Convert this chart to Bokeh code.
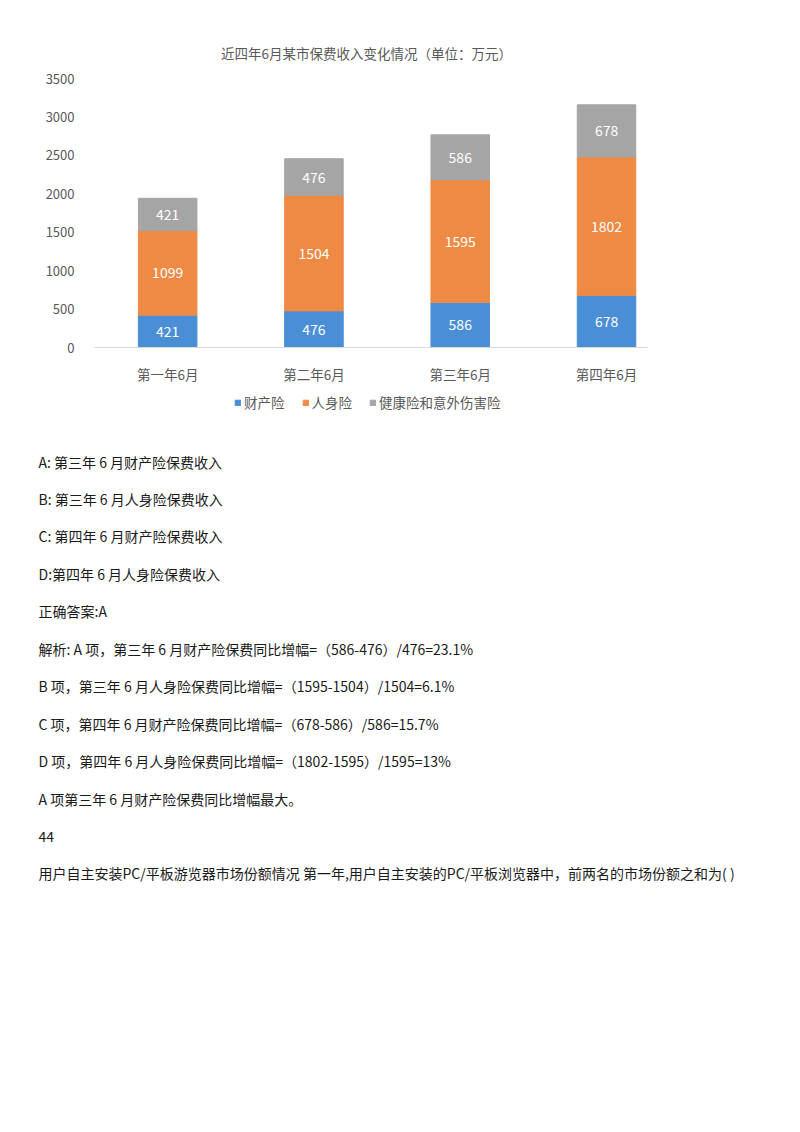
import numpy as np
from bokeh.plotting import figure
from bokeh.models import Range1d, ColumnDataSource, Legend, LegendItem
from bokeh.embed import file_html
from bokeh.resources import INLINE
from bokeh.core.properties import value

# chart data
title = "近四年6月某市保费收入变化情况（单位：万元）"
categories = ["第一年6月", "第二年6月", "第三年6月", "第四年6月"]
series = ["财产险", "人身险", "健康险和意外伤害险"]
property_ins = [421, 476, 586, 678]
life_ins = [1099, 1504, 1595, 1802]
health_ins = [421, 476, 586, 678]
y_ticks = [0, 500, 1000, 1500, 2000, 2500, 3000, 3500]
colors = ["#4A8FD6", "#EF8A45", "#A5A5A5"]

# text under the chart
lines = [
    "A: 第三年 6 月财产险保费收入",
    "B: 第三年 6 月人身险保费收入",
    "C: 第四年 6 月财产险保费收入",
    "D:第四年 6 月人身险保费收入",
    "正确答案:A",
    "解析: A 项，第三年 6 月财产险保费同比增幅=（586-476）/476=23.1%",
    "B 项，第三年 6 月人身险保费同比增幅=（1595-1504）/1504=6.1%",
    "C 项，第四年 6 月财产险保费同比增幅=（678-586）/586=15.7%",
    "D 项，第四年 6 月人身险保费同比增幅=（1802-1595）/1595=13%",
    "A 项第三年 6 月财产险保费同比增幅最大。",
    "44",
    "用户自主安装PC/平板游览器市场份额情况 第一年,用户自主安装的PC/平板浏览器中，前两名的市场份额之和为( )",
]

FONT = "Noto Sans CJK SC"
GREY_TXT = "#595959"
W = 784


def blank(height):
    f = figure(width=W, height=height, x_range=Range1d(0, W), y_range=Range1d(height, 0),
               output_backend="svg", toolbar_location=None,
               min_border=0, min_border_left=0, min_border_right=0,
               min_border_top=0, min_border_bottom=0)
    f.axis.visible = False
    f.grid.visible = False
    f.outline_line_color = None
    return f


# title strip
HT = 68
h = blank(HT)
h.text(x=[366], y=[52], text=[title], text_color=GREY_TXT, text_font=value(FONT),
       text_font_size="13.5px", text_align="center", text_baseline="middle")

# chart
xs = np.arange(len(categories)) + 0.5
values = [property_ins, life_ins, health_ins]

p = figure(width=W, height=318, x_range=Range1d(0, 3.78), y_range=Range1d(0, 3500),
           output_backend="svg", toolbar_location=None,
           min_border_left=94, min_border_right=137, min_border_top=10, min_border_bottom=35)
p.outline_line_color = None
p.grid.visible = False

# stacked bars with white value labels
bottom = np.zeros(len(categories))
for vals, col in zip(values, colors):
    vals = np.array(vals, dtype=float)
    src = ColumnDataSource(dict(x=xs, bottom=bottom, top=bottom + vals,
                                mid=bottom + vals / 2, label=[str(int(v)) for v in vals]))
    p.vbar(x="x", bottom="bottom", top="top", width=0.4, color=col, source=src)
    p.text(x="x", y="mid", text="label", source=src, text_color="white",
           text_font=value(FONT), text_font_size="14px",
           text_align="center", text_baseline="middle")
    bottom = bottom + vals

p.yaxis.ticker = y_ticks
p.yaxis.axis_line_color = None
p.yaxis.major_tick_line_color = None
p.yaxis.minor_tick_line_color = None
p.yaxis.major_label_standoff = 14
p.yaxis.major_label_text_font = FONT
p.yaxis.major_label_text_font_size = "13px"
p.yaxis.major_label_text_color = GREY_TXT

p.xaxis.ticker = list(xs)
p.xaxis.major_label_overrides = {float(x): c for x, c in zip(xs, categories)}
p.xaxis.axis_line_color = "#D9D9D9"
p.xaxis.major_tick_line_color = None
p.xaxis.minor_tick_line_color = None
p.xaxis.major_label_standoff = 10
p.xaxis.major_label_text_font = FONT
p.xaxis.major_label_text_font_size = "13.5px"
p.xaxis.major_label_text_color = GREY_TXT

# lower part: legend of the chart, then question / answer text
H = 730
t = blank(H)

# zero-size stand-ins so the legend has a swatch per series
items = []
for name, col in zip(series, colors):
    r = t.vbar(x=[0], bottom=[0], top=[0], width=0, color=col)
    items.append(LegendItem(label=name, renderers=[r]))
legend = Legend(items=items, orientation="horizontal", location=(234, H - 26),
                glyph_width=7, glyph_height=7, label_standoff=3, spacing=17,
                padding=0, margin=0, border_line_color=None, background_fill_alpha=0,
                label_text_font=FONT, label_text_font_size="13.5px",
                label_text_color=GREY_TXT)
t.add_layout(legend)

ty = 75 + 37.45 * np.arange(len(lines))
t.text(x=[38] * len(lines), y=ty, text=lines, text_color="#1a1a1a",
       text_font=value(FONT), text_font_size="14px", text_baseline="middle")

open("out.html", "w").write(file_html([h, p, t], INLINE))
